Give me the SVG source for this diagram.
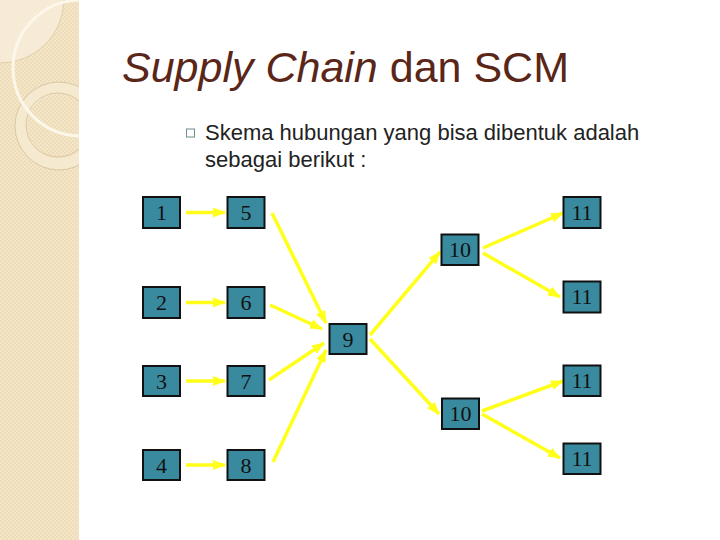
<svg xmlns="http://www.w3.org/2000/svg" width="720" height="540" viewBox="0 0 720 540">
<defs>
<pattern id="chk" width="4" height="4" patternUnits="userSpaceOnUse">
<rect width="4" height="4" fill="#f4e6c9"/>
<rect width="2" height="2" fill="#eedcb8"/>
<rect x="2" y="2" width="2" height="2" fill="#eedcb8"/>
</pattern>
<clipPath id="strip"><rect x="0" y="0" width="79" height="540"/></clipPath>
<marker id="ah" viewBox="0 0 13 10" refX="12" refY="5" markerWidth="3.7" markerHeight="2.9" orient="auto" markerUnits="strokeWidth">
<path d="M0,0 L13,5 L0,10 z" fill="#ffff1a"/>
</marker>
</defs>
<style>
.box{fill:#3a8a9f;stroke:#111;stroke-width:2}
.num{font-family:"Liberation Serif",serif;font-size:22px;fill:#111;text-anchor:middle}
.edge{stroke:#ffff1a;stroke-width:3.5;fill:none;marker-end:url(#ah)}
</style>
<rect width="720" height="540" fill="#ffffff"/>
<g id="background-strip" clip-path="url(#strip)">
<rect x="0" y="0" width="79" height="540" fill="url(#chk)"/>
<path d="M0,0 L64,0 A64,64 0 0 1 0,63 Z" fill="#f7eedb" opacity="0.8"/>
<path d="M64,0 A64,64 0 0 1 0,63" fill="none" stroke="#dcc9a4" stroke-width="0.8"/>
<circle cx="59" cy="126" r="38" fill="none" stroke="#f5e9d0" stroke-width="12"/>
<circle cx="59" cy="126" r="44" fill="none" stroke="#d4bf98" stroke-width="0.8"/>
<circle cx="58" cy="125" r="32" fill="none" stroke="#d4bf98" stroke-width="0.8"/>
<circle cx="81" cy="68" r="68" fill="none" stroke="#fcf7ea" stroke-width="3"/>
</g>
<g id="title">
<text x="122" y="82" font-family="Liberation Sans, Arial, sans-serif" font-size="43" fill="#5a2618"><tspan font-style="italic">Supply Chain</tspan> dan SCM</text>
</g>
<g id="bullet">
<rect x="186.5" y="129" width="8" height="8" fill="none" stroke="#6f8c92" stroke-width="1"/>
<text font-family="Liberation Sans, Arial, sans-serif" font-size="22" fill="#222"><tspan x="205" y="140">Skema hubungan yang bisa dibentuk adalah</tspan><tspan x="205" y="167">sebagai berikut :</tspan></text>
</g>
<g id="connectors">
<line class="edge" x1="186" y1="212.5" x2="225" y2="212.5"/>
<line class="edge" x1="186" y1="302.5" x2="225" y2="302.5"/>
<line class="edge" x1="186" y1="381" x2="225" y2="381"/>
<line class="edge" x1="186" y1="465" x2="225" y2="465"/>
<line class="edge" x1="272" y1="213" x2="326" y2="323"/>
<line class="edge" x1="270" y1="305" x2="322" y2="329"/>
<line class="edge" x1="269" y1="380" x2="324" y2="343"/>
<line class="edge" x1="273" y1="462" x2="326" y2="350"/>
<line class="edge" x1="370" y1="335" x2="440" y2="252"/>
<line class="edge" x1="370" y1="339" x2="439" y2="414"/>
<line class="edge" x1="483" y1="248" x2="563" y2="213"/>
<line class="edge" x1="483" y1="253" x2="560" y2="297"/>
<line class="edge" x1="482" y1="411" x2="563" y2="381"/>
<line class="edge" x1="482" y1="414" x2="560" y2="458"/>
</g>
<g id="n1"><rect class="box" x="143" y="197" width="37" height="31"/><text class="num" x="161.5" y="220">1</text></g>
<g id="n2"><rect class="box" x="143" y="287" width="37" height="31"/><text class="num" x="161.5" y="310">2</text></g>
<g id="n3"><rect class="box" x="143" y="366" width="37" height="30"/><text class="num" x="161.5" y="388.5">3</text></g>
<g id="n4"><rect class="box" x="143" y="450" width="37" height="30"/><text class="num" x="161.5" y="472.5">4</text></g>
<g id="n5"><rect class="box" x="227.5" y="197" width="37" height="31"/><text class="num" x="246" y="220">5</text></g>
<g id="n6"><rect class="box" x="227.5" y="287" width="37" height="31"/><text class="num" x="246" y="310">6</text></g>
<g id="n7"><rect class="box" x="227.5" y="366" width="37" height="30"/><text class="num" x="246" y="388.5">7</text></g>
<g id="n8"><rect class="box" x="227.5" y="450" width="37" height="30"/><text class="num" x="246" y="472.5">8</text></g>
<g id="n9"><rect class="box" x="329.5" y="324" width="37" height="30"/><text class="num" x="348" y="346.5">9</text></g>
<g id="n10a"><rect class="box" x="441.5" y="234.5" width="37" height="30.5"/><text class="num" x="460" y="257">10</text></g>
<g id="n10b"><rect class="box" x="442" y="398.5" width="37" height="30.5"/><text class="num" x="460.5" y="421">10</text></g>
<g id="n11a"><rect class="box" x="563.5" y="197" width="37" height="31"/><text class="num" x="582" y="220">11</text></g>
<g id="n11b"><rect class="box" x="563.5" y="281.5" width="37" height="31"/><text class="num" x="582" y="304">11</text></g>
<g id="n11c"><rect class="box" x="563.5" y="365.5" width="37" height="30.5"/><text class="num" x="582" y="388">11</text></g>
<g id="n11d"><rect class="box" x="563.5" y="443.5" width="37" height="30.5"/><text class="num" x="582" y="466">11</text></g>
</svg>
